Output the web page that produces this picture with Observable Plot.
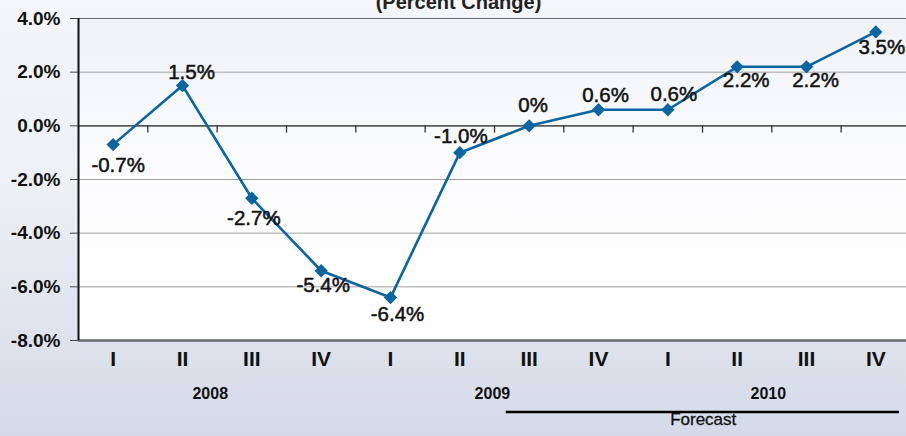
<!DOCTYPE html>
<html>
<head>
<meta charset="utf-8">
<script src="https://cdn.jsdelivr.net/npm/d3@7"></script>
<script src="https://cdn.jsdelivr.net/npm/@observablehq/plot@0.6"></script>
<style>
  html, body { margin: 0; padding: 0; }
  body {
    width: 906px; height: 436px; overflow: hidden;
    background: linear-gradient(to bottom, #f4f6f9 0%, #eceff4 45%, #d4dae7 100%);
  }
</style>
</head>
<body>
<div id="chart"></div>
<script>
// ---- data ----
const quarters = ["I", "II", "III", "IV", "I", "II", "III", "IV", "I", "II", "III", "IV"];
const values = [-0.7, 1.5, -2.7, -5.4, -6.4, -1.0, 0, 0.6, 0.6, 2.2, 2.2, 3.5];
const valueLabels = ["-0.7%", "1.5%", "-2.7%", "-5.4%", "-6.4%", "-1.0%", "0%", "0.6%", "0.6%", "2.2%", "2.2%", "3.5%"];
const years = ["2008", "2009", "2010"];
const yearCenters = [1.4, 5.47, 9.45];      // position in quarter index units
const yTicks = [-8, -6, -4, -2, 0, 2, 4];
const forecastSpan = [5.67, 11.34];          // quarter index units
const forecastCenter = 8.51;
const titleText = "(Percent Change)";
const forecastText = "Forecast";

// ---- label placement (styling) ----
const labelDx = [5, 9, 2, 2, 7, 1, 4, 7, 6, 9, 9, 6];
const labelDy = [21, -13, 20, 15, 17, -16, -20, -14, -15, 14, 14, 16];

const blue = "#0a65a0";
const idx = values.map((d, i) => i);

const chart = Plot.plot({
  width: 906,
  height: 436,
  marginLeft: 78,
  marginRight: 0,
  marginTop: 18,
  marginBottom: 96,
  style: {
    fontFamily: "'Liberation Sans Narrow', 'Arial Narrow', 'Liberation Sans', sans-serif",
    background: "transparent",
    color: "#111"
  },
  x: { type: "linear", domain: [-0.5, 11.5], range: [78, 910], axis: null },
  y: { domain: [-8, 4], axis: null },
  marks: [
    Plot.frame({ fill: "url(#plotAreaGrad)", stroke: "none" }),
    Plot.gridY(yTicks.filter(d => d !== 0 && d !== -8 && d !== 4), { stroke: "#a0a0a0", strokeOpacity: 1, strokeWidth: 1 }),
    Plot.ruleY([4], { stroke: "#666", strokeWidth: 1.2 }),
    Plot.ruleY([0], { stroke: "#5a5a5a", strokeWidth: 1.6 }),
    Plot.ruleX(d3.range(0.5, 11, 1), { y1: 0, y2: -0.27, stroke: "#333", strokeWidth: 1.3 }),
    Plot.ruleY([-8], { stroke: "#6a6a6a", strokeWidth: 2.6 }),
    Plot.ruleX([-0.5], { stroke: "#111", strokeWidth: 2 }),
    Plot.axisY(yTicks, {
      tickFormat: d => d.toFixed(1) + "%",
      tickSize: 8, tickPadding: 10,
      fontSize: 19, fontWeight: "bold", stroke: "#444", fill: "#111"
    }),
    Plot.line(values, { x: (d, i) => i, y: d => d, stroke: blue, strokeWidth: 2.6 }),
    Plot.dot(values, { x: (d, i) => i, y: d => d, symbol: "diamond2", r: 6, fill: blue, stroke: "none" }),
    ...idx.map(i => Plot.text([i], {
      x: d => d, y: d => values[d], text: d => valueLabels[d],
      dx: labelDx[i], dy: labelDy[i], fontSize: 20.5, fill: "#111",
      stroke: "#111", strokeWidth: 0.5
    })),
    Plot.text(quarters, { x: (d, i) => i, text: d => d, frameAnchor: "bottom", dy: 25, fontSize: 21, fontWeight: "bold", fill: "#111" }),
    Plot.text(years, { x: (d, i) => yearCenters[i], text: d => d, frameAnchor: "bottom", dy: 58, fontSize: 16, fontWeight: "bold", fill: "#111" }),
    Plot.ruleY([-8], { x1: forecastSpan[0], x2: forecastSpan[1], dy: 71.5, stroke: "#000", strokeWidth: 2.5 }),
    Plot.text([forecastText], { x: forecastCenter, text: d => d, frameAnchor: "bottom", dy: 84, fontSize: 17, fill: "#111", stroke: "#111", strokeWidth: 0.3 }),
    Plot.text([titleText], { text: d => d, frameAnchor: "top", lineAnchor: "bottom", dx: -34, dy: -10, fontSize: 20, fontWeight: "bold", fill: "#222" })
  ]
});

d3.select(chart).insert("defs", ":first-child").html(`
  <linearGradient id="plotAreaGrad" x1="0" y1="0" x2="0" y2="1">
    <stop offset="0" stop-color="#eff2f6"/>
    <stop offset="0.45" stop-color="#fcfcfe"/>
    <stop offset="1" stop-color="#ffffff"/>
  </linearGradient>`);

document.getElementById("chart").appendChild(chart);
</script>
</body>
</html>
